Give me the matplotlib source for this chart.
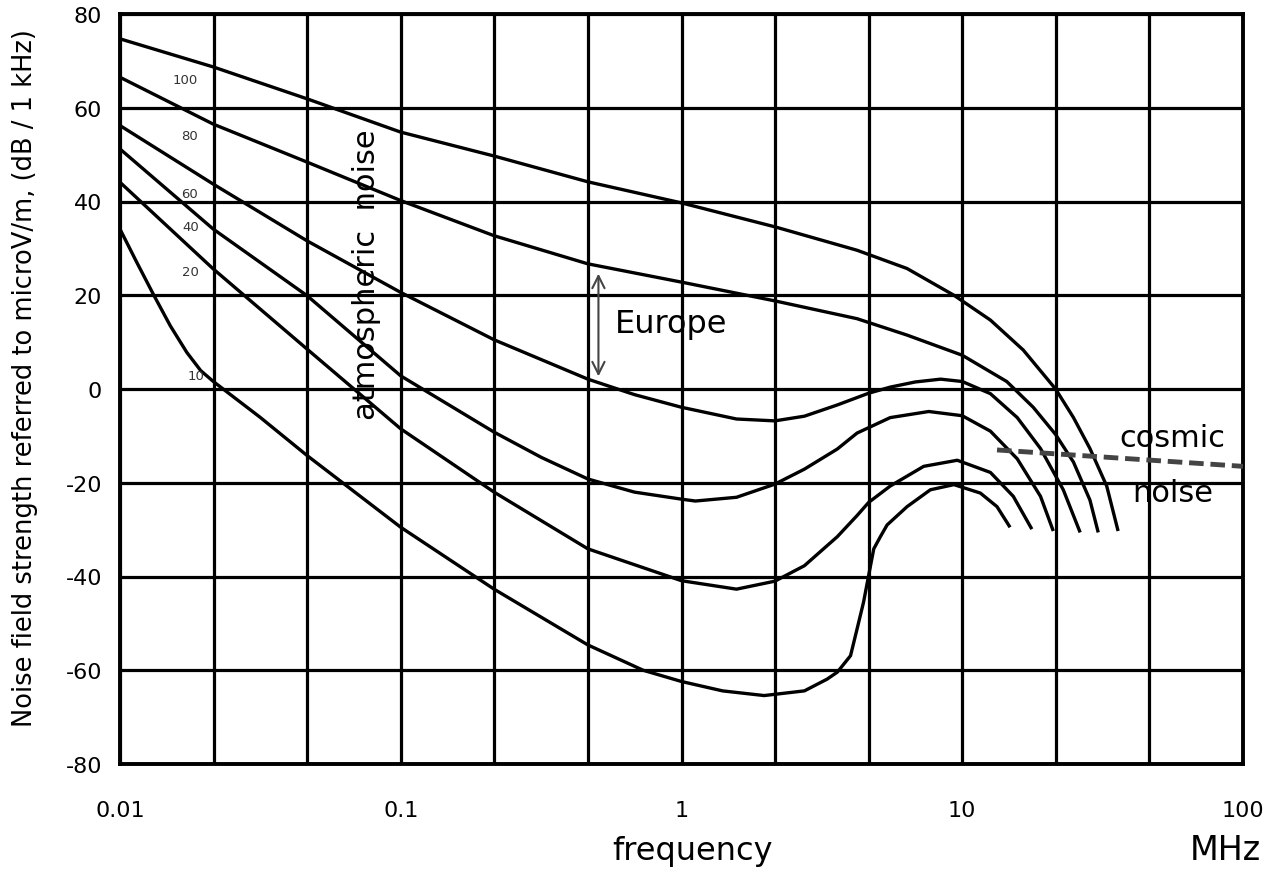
import matplotlib.pyplot as plt
from matplotlib.ticker import FixedLocator, NullFormatter

plt.rcParams["axes.unicode_minus"] = False

# atmospheric noise curves, frequency in MHz, level in dB(uV/m) per 1 kHz
freq_100 = [0.01, 0.0215, 0.0464, 0.1, 0.215, 0.464, 1, 2.15, 4.22, 6.36,
            9.34, 12.6, 16.5, 21.5, 24.9, 28.5, 32.7, 35.9]
db_100 = [74.7, 68.7, 61.9, 54.8, 49.7, 44.2, 39.7, 34.6, 29.6, 25.7,
          20.0, 14.7, 8.3, 0, -6.1, -12.7, -20.7, -30.3]

freq_80 = [0.01, 0.0215, 0.0464, 0.1, 0.215, 0.464, 1, 2.15, 4.22, 6.36, 10,
           14.4, 17.9, 21.5, 24.9, 28.5, 30.5]
db_80 = [66.5, 56.5, 48.4, 40.2, 32.7, 26.7, 22.8, 18.8, 15.0, 11.5, 7.2,
         1.6, -3.9, -9.7, -15.6, -23.7, -30.6]

freq_60 = [0.01, 0.0215, 0.0464, 0.1, 0.215, 0.464, 0.68, 1, 1.57, 2.15,
           2.74, 3.59, 4.64, 5.54, 6.8, 8.37, 10, 12.6, 15.7, 19.0, 22.9, 26.3]
db_60 = [56.2, 43.7, 31.6, 20.6, 10.5, 2.1, -1.2, -3.9, -6.4, -6.8,
         -5.8, -3.4, -0.9, 0.4, 1.5, 2.1, 1.6, -1.0, -6.1, -12.7, -21.5, -30.6]

freq_40 = [0.01, 0.0215, 0.0464, 0.1, 0.215, 0.317, 0.464, 0.68, 1, 1.12,
           1.57, 2.15, 2.74, 3.59, 4.22, 5.54, 7.6, 10, 12.6, 15.7, 19.0, 21.1]
db_40 = [51.2, 34.1, 19.9, 2.8, -9.2, -14.6, -19.2, -22.0, -23.5, -23.9,
         -23.1, -20.3, -17.1, -12.8, -9.4, -6.1, -4.8, -5.7, -9.0, -14.9,
         -22.9, -30.3]

freq_20 = [0.01, 0.0215, 0.0464, 0.1, 0.215, 0.464, 1, 1.57, 2.15, 2.74,
           3.59, 4.22, 4.64, 5.54, 7.29, 9.6, 12.6, 15.2, 17.7]
db_20 = [44.1, 25.6, 8.5, -8.5, -22, -34.1, -40.9, -42.7, -41, -37.7,
         -31.5, -27.0, -24.2, -20.7, -16.5, -15.2, -17.8, -22.9, -29.9]

freq_10 = [0.01, 0.01148, 0.0132, 0.0151, 0.0173, 0.0194, 0.0215, 0.0315,
           0.0464, 0.1, 0.215, 0.464, 0.73, 1, 1.4, 1.97, 2.74, 3.3, 3.59,
           4.0, 4.22, 4.45, 4.64, 4.84, 5.11, 5.4, 6.36, 7.7, 9.34, 11.6,
           13.3, 14.8]
db_10 = [34.1, 27.0, 20.0, 13.5, 7.8, 3.9, 1.6, -6.0,
         -14.2, -29.5, -42.7, -54.6, -60, -62.4, -64.4, -65.4, -64.4, -61.9,
         -60.4, -56.9, -51.2, -45.5, -39.8, -34.1, -31.5, -29.0, -25.1,
         -21.5, -20.4, -22.2, -25.1, -29.5]

curves = [(freq_100, db_100), (freq_80, db_80), (freq_60, db_60),
          (freq_40, db_40), (freq_20, db_20), (freq_10, db_10)]

curve_labels = ["100", "80", "60", "40", "20", "10"]
label_f = [0.0170, 0.0177, 0.0177, 0.0178, 0.0178, 0.0186]
label_db = [66.1, 54.0, 41.6, 34.6, 25.0, 2.8]

# cosmic noise level
cosmic_f = [13.3, 100]
cosmic_db = [-13.0, -16.5]

# Europe range arrow
europe_f = 0.506
europe_db = [25.2, 2.1]

x_ticks = [0.01, 0.1, 1, 10, 100]
x_ticklabels = ["0.01", "0.1", "1", "10", "100"]
y_ticks = [-80, -60, -40, -20, 0, 20, 40, 60, 80]

fig = plt.figure(figsize=(12.83, 8.78), dpi=100)
ax = fig.add_axes([120 / 1283, 1 - 765 / 878, 1123 / 1283, 750 / 878])

ax.set_xscale("log")
ax.set_xlim(0.01, 100)
ax.set_ylim(-80, 80)

# grid every third of a decade
ax.xaxis.set_major_locator(FixedLocator(x_ticks))
ax.xaxis.set_minor_locator(FixedLocator([10 ** (k / 3) for k in range(-6, 7)]))
ax.xaxis.set_minor_formatter(NullFormatter())
ax.set_xticklabels(x_ticklabels)
ax.set_yticks(y_ticks)
ax.grid(which="both", color="black", lw=2.3)
ax.set_axisbelow(True)
ax.tick_params(which="both", length=0, labelsize=16)
ax.tick_params(axis="x", pad=26)
ax.tick_params(axis="y", pad=13)
for s in ax.spines.values():
    s.set_linewidth(2.8)

for f, v in curves:
    ax.plot(f, v, color="black", lw=2.4, solid_joinstyle="round",
            solid_capstyle="butt", zorder=3)

for t, f, v in zip(curve_labels, label_f, label_db):
    ax.text(f, v, t, fontsize=9.5, color="#333333", ha="center", va="center")

ax.plot(cosmic_f, cosmic_db, color="#444444", lw=3.5, ls=(0, (3, 1.4)),
        zorder=3, clip_on=False)

ax.annotate("", xy=(europe_f, europe_db[1]), xytext=(europe_f, europe_db[0]),
            arrowprops=dict(arrowstyle="<->", color="#444444", lw=1.5,
                            mutation_scale=22))

ax.text(0.578, 12.2, "Europe", fontsize=23, ha="left", va="baseline")
ax.text(0.0755, 24.7, "atmospheric  noise", fontsize=22, rotation=90,
        ha="center", va="center")
ax.text(56, -10.4, "cosmic", fontsize=22, ha="center", va="center")
ax.text(56, -22.0, "noise", fontsize=22, ha="center", va="center")

fig.text(25 / 1283, 1 - 378 / 878,
         "Noise field strength referred to microV/m, (dB / 1 kHz)",
         fontsize=18.5, rotation=90, ha="center", va="center")
fig.text(693 / 1283, 1 - 852 / 878, "frequency", fontsize=23,
         ha="center", va="center")
fig.text(1225 / 1283, 1 - 851 / 878, "MHz", fontsize=24,
         ha="center", va="center")

fig.savefig("out.png", dpi=100)
